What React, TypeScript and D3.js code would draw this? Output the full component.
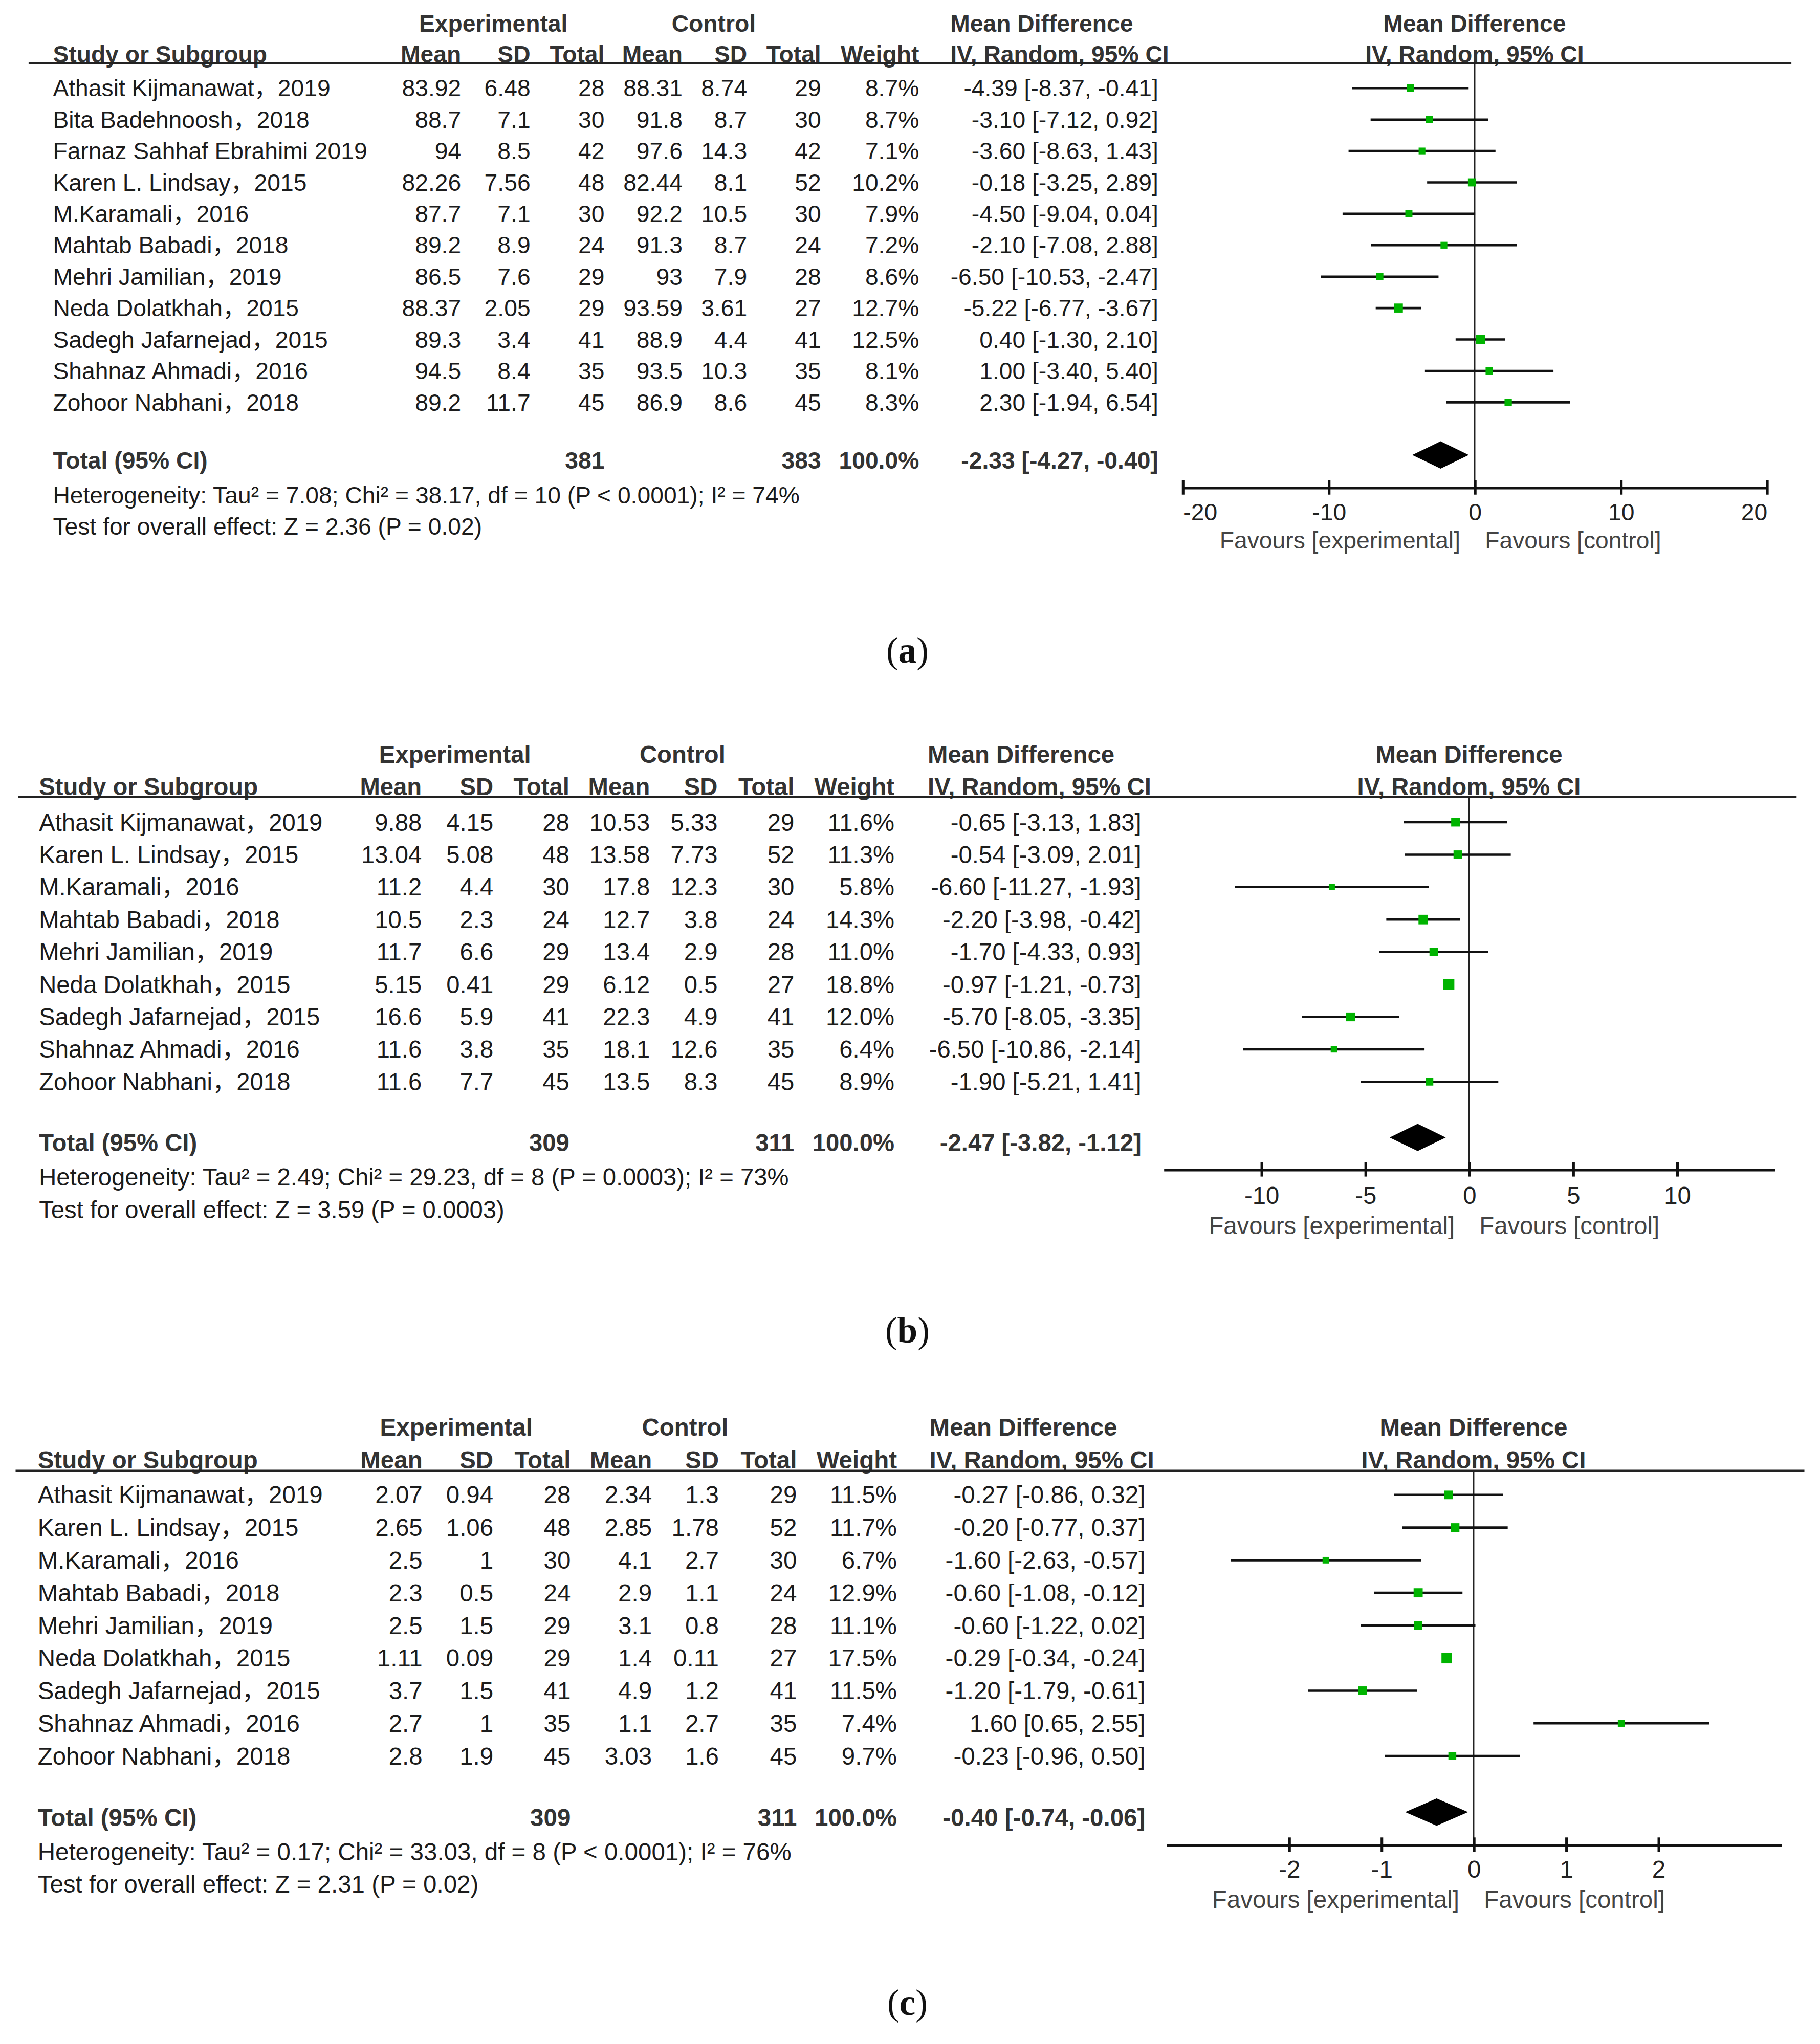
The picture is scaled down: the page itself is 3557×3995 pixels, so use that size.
import React, { useEffect, useRef } from 'react';
import * as d3 from 'd3';

const W = 3557, H = 3995;
const S = W / 1400;
const VH = H / S;
const FONT = '"Liberation Sans", Arial, "Noto Sans CJK SC", sans-serif';

// ---- panel (a) ----
const studiesA = [
  'Athasit Kijmanawat，2019', 'Bita Badehnoosh，2018', 'Farnaz Sahhaf Ebrahimi 2019',
  'Karen L. Lindsay，2015', 'M.Karamali，2016', 'Mahtab Babadi，2018', 'Mehri Jamilian，2019',
  'Neda Dolatkhah，2015', 'Sadegh Jafarnejad，2015', 'Shahnaz Ahmadi，2016', 'Zohoor Nabhani，2018',
];
const expA = [[83.92, 6.48, 28], [88.7, 7.1, 30], [94, 8.5, 42], [82.26, 7.56, 48], [87.7, 7.1, 30],
  [89.2, 8.9, 24], [86.5, 7.6, 29], [88.37, 2.05, 29], [89.3, 3.4, 41], [94.5, 8.4, 35], [89.2, 11.7, 45]];
const ctlA = [[88.31, 8.74, 29], [91.8, 8.7, 30], [97.6, 14.3, 42], [82.44, 8.1, 52], [92.2, 10.5, 30],
  [91.3, 8.7, 24], [93, 7.9, 28], [93.59, 3.61, 27], [88.9, 4.4, 41], [93.5, 10.3, 35], [86.9, 8.6, 45]];
const weightA = [8.7, 8.7, 7.1, 10.2, 7.9, 7.2, 8.6, 12.7, 12.5, 8.1, 8.3];
const mdA = [[-4.39, -8.37, -0.41], [-3.10, -7.12, 0.92], [-3.60, -8.63, 1.43], [-0.18, -3.25, 2.89],
  [-4.50, -9.04, 0.04], [-2.10, -7.08, 2.88], [-6.50, -10.53, -2.47], [-5.22, -6.77, -3.67],
  [0.40, -1.30, 2.10], [1.00, -3.40, 5.40], [2.30, -1.94, 6.54]];
const totalA = [381, 383];
const pooledA = [-2.33, -4.27, -0.40];
const statsA = [
  'Heterogeneity: Tau² = 7.08; Chi² = 38.17, df = 10 (P < 0.0001); I² = 74%',
  'Test for overall effect: Z = 2.36 (P = 0.02)',
];
const ticksA = [-20, -10, 0, 10, 20];

// ---- panel (b) ----
const studiesBC = [
  'Athasit Kijmanawat，2019', 'Karen L. Lindsay，2015', 'M.Karamali，2016', 'Mahtab Babadi，2018',
  'Mehri Jamilian，2019', 'Neda Dolatkhah，2015', 'Sadegh Jafarnejad，2015', 'Shahnaz Ahmadi，2016',
  'Zohoor Nabhani，2018',
];
const expB = [[9.88, 4.15, 28], [13.04, 5.08, 48], [11.2, 4.4, 30], [10.5, 2.3, 24], [11.7, 6.6, 29],
  [5.15, 0.41, 29], [16.6, 5.9, 41], [11.6, 3.8, 35], [11.6, 7.7, 45]];
const ctlB = [[10.53, 5.33, 29], [13.58, 7.73, 52], [17.8, 12.3, 30], [12.7, 3.8, 24], [13.4, 2.9, 28],
  [6.12, 0.5, 27], [22.3, 4.9, 41], [18.1, 12.6, 35], [13.5, 8.3, 45]];
const weightB = [11.6, 11.3, 5.8, 14.3, 11.0, 18.8, 12.0, 6.4, 8.9];
const mdB = [[-0.65, -3.13, 1.83], [-0.54, -3.09, 2.01], [-6.60, -11.27, -1.93], [-2.20, -3.98, -0.42],
  [-1.70, -4.33, 0.93], [-0.97, -1.21, -0.73], [-5.70, -8.05, -3.35], [-6.50, -10.86, -2.14],
  [-1.90, -5.21, 1.41]];
const totalB = [309, 311];
const pooledB = [-2.47, -3.82, -1.12];
const statsB = [
  'Heterogeneity: Tau² = 2.49; Chi² = 29.23, df = 8 (P = 0.0003); I² = 73%',
  'Test for overall effect: Z = 3.59 (P = 0.0003)',
];
const ticksB = [-10, -5, 0, 5, 10];

// ---- panel (c) ----
const expC = [[2.07, 0.94, 28], [2.65, 1.06, 48], [2.5, 1, 30], [2.3, 0.5, 24], [2.5, 1.5, 29],
  [1.11, 0.09, 29], [3.7, 1.5, 41], [2.7, 1, 35], [2.8, 1.9, 45]];
const ctlC = [[2.34, 1.3, 29], [2.85, 1.78, 52], [4.1, 2.7, 30], [2.9, 1.1, 24], [3.1, 0.8, 28],
  [1.4, 0.11, 27], [4.9, 1.2, 41], [1.1, 2.7, 35], [3.03, 1.6, 45]];
const weightC = [11.5, 11.7, 6.7, 12.9, 11.1, 17.5, 11.5, 7.4, 9.7];
const mdC = [[-0.27, -0.86, 0.32], [-0.20, -0.77, 0.37], [-1.60, -2.63, -0.57], [-0.60, -1.08, -0.12],
  [-0.60, -1.22, 0.02], [-0.29, -0.34, -0.24], [-1.20, -1.79, -0.61], [1.60, 0.65, 2.55],
  [-0.23, -0.96, 0.50]];
const totalC = [309, 311];
const pooledC = [-0.40, -0.74, -0.06];
const statsC = [
  'Heterogeneity: Tau² = 0.17; Chi² = 33.03, df = 8 (P < 0.0001); I² = 76%',
  'Test for overall effect: Z = 2.31 (P = 0.02)',
];
const ticksC = [-2, -1, 0, 1, 2];

const colHeads = ['Mean', 'SD', 'Total', 'Mean', 'SD', 'Total', 'Weight'];

const layoutA = {
  fs: 18.2,
  hdr1: 18, hdr2: 41.8, line: 48.6, lineX: [22, 1378],
  row0: 67.8, step: 24.17, totalY: 354, hetY: 381, testY: 405,
  axisY: 375, tickY: 394, favY: 415.5, labelY: 500,
  studyX: 40.7, cols: [354.7, 408, 465, 525, 574.7, 631.6, 707], expC: 379.5, ctlC: 549,
  ciR: 891, mdX: 731, xDomain: [-20, 20], xRange: [909.6, 1359],
};
const layoutB = {
  fs: 18.6,
  hdr1: 580.5, hdr2: 605, line: 613, lineX: [14, 1382],
  row0: 632.5, step: 24.96, totalY: 879, hetY: 905.5, testY: 930.5,
  axisY: 899.6, tickY: 919.5, favY: 943, labelY: 1023,
  studyX: 30, cols: [324.4, 379.5, 438, 500, 552, 611, 688], expC: 350, ctlC: 525,
  ciR: 878, mdX: 713.6, xDomain: [-14.7, 14.7], xRange: [895, 1365],
};
const layoutC = {
  fs: 18.7,
  hdr1: 1098, hdr2: 1123, line: 1131.6, lineX: [12, 1388],
  row0: 1150, step: 25.1, totalY: 1398, hetY: 1424.5, testY: 1449.5,
  axisY: 1419, tickY: 1438, favY: 1461, labelY: 1540,
  studyX: 29, cols: [325, 379.5, 439, 501.5, 553, 613, 690], expC: 351, ctlC: 527,
  ciR: 881, mdX: 715, xDomain: [-3.33, 3.33], xRange: [897, 1370],
};

const fmt2 = (v: number) => v.toFixed(2);
const ciText = (r: number[]) => `${fmt2(r[0])} [${fmt2(r[1])}, ${fmt2(r[2])}]`;

function Panel(p: any) {
  const { studies, exp, ctl, weight, md, total, pooled, stats, ticks, label, L } = p;
  const axisRef = useRef<SVGGElement>(null);
  const x = d3.scaleLinear().domain(L.xDomain).range(L.xRange);
  const y = d3.scaleLinear().domain([0, studies.length - 1])
    .range([L.row0, L.row0 + L.step * (studies.length - 1)]);
  const box = d3.scaleSqrt().domain([0, 100]).range([0, 19.5]);
  const zx = x(0);

  useEffect(() => {
    const g = d3.select(axisRef.current);
    g.selectAll('*').remove();
    g.call(d3.axisBottom(x).tickValues(ticks).tickSizeOuter(0).tickSizeInner(5)
      .tickFormat((d: any) => String(d)) as any);
    g.attr('font-family', FONT).attr('font-size', L.fs);
    g.select('.domain').attr('stroke', '#111').attr('stroke-width', 2);
    g.selectAll('.tick line').attr('y1', -5.5).attr('y2', 5.5).attr('stroke', '#111').attr('stroke-width', 2);
    g.selectAll('.tick text')
      .attr('y', L.tickY - L.axisY).attr('dy', '0.35em').attr('fill', '#222')
      .attr('text-anchor', (d: any) => (d === L.xDomain[0] ? 'start' : d === L.xDomain[1] ? 'end' : 'middle'));
  }, []);

  const hd = { fontWeight: 'bold', fill: '#333' } as any;
  const tx = { fill: '#1c1c1c' } as any;

  return (
    <g fontFamily={FONT} fontSize={L.fs}>
      {/* headers */}
      <text x={L.expC} y={L.hdr1} dy="0.35em" textAnchor="middle" {...hd}>Experimental</text>
      <text x={L.ctlC} y={L.hdr1} dy="0.35em" textAnchor="middle" {...hd}>Control</text>
      <text x={L.mdX} y={L.hdr1} dy="0.35em" {...hd}>Mean Difference</text>
      <text x={zx} y={L.hdr1} dy="0.35em" textAnchor="middle" {...hd}>Mean Difference</text>
      <text x={L.studyX} y={L.hdr2} dy="0.35em" {...hd}>Study or Subgroup</text>
      {colHeads.map((h, i) => (
        <text key={i} x={L.cols[i]} y={L.hdr2} dy="0.35em" textAnchor="end" {...hd}>{h}</text>
      ))}
      <text x={L.mdX} y={L.hdr2} dy="0.35em" {...hd}>IV, Random, 95% CI</text>
      <text x={zx} y={L.hdr2} dy="0.35em" textAnchor="middle" {...hd}>IV, Random, 95% CI</text>
      <line x1={L.lineX[0]} x2={L.lineX[1]} y1={L.line} y2={L.line} stroke="#222" strokeWidth={2} />

      {/* zero line */}
      <line x1={zx} x2={zx} y1={L.line} y2={L.axisY} stroke="#222" strokeWidth={1.2} />

      {/* study rows */}
      {studies.map((s: string, i: number) => {
        const vals = [...exp[i], ...ctl[i]].map((v: number) => String(v));
        vals.push(weight[i].toFixed(1) + '%');
        const cy = y(i);
        const b = box(weight[i]);
        return (
          <g key={s}>
            <text x={L.studyX} y={cy} dy="0.35em" {...tx}>{s}</text>
            {vals.map((v: string, j: number) => (
              <text key={j} x={L.cols[j]} y={cy} dy="0.35em" textAnchor="end" {...tx}>{v}</text>
            ))}
            <text x={L.ciR} y={cy} dy="0.35em" textAnchor="end" {...tx}>{ciText(md[i])}</text>
            <line x1={x(md[i][1])} x2={x(md[i][2])} y1={cy} y2={cy} stroke="#111" strokeWidth={1.8} />
            <rect x={x(md[i][0]) - b / 2} y={cy - b / 2} width={b} height={b} fill="#00b400" />
          </g>
        );
      })}

      {/* total row */}
      <text x={L.studyX} y={L.totalY} dy="0.35em" {...hd}>Total (95% CI)</text>
      <text x={L.cols[2]} y={L.totalY} dy="0.35em" textAnchor="end" {...hd}>{total[0]}</text>
      <text x={L.cols[5]} y={L.totalY} dy="0.35em" textAnchor="end" {...hd}>{total[1]}</text>
      <text x={L.cols[6]} y={L.totalY} dy="0.35em" textAnchor="end" {...hd}>100.0%</text>
      <text x={L.ciR} y={L.totalY} dy="0.35em" textAnchor="end" {...hd}>{ciText(pooled)}</text>
      <path
        d={`M${x(pooled[1])},${L.totalY - 4} L${x(pooled[0])},${L.totalY - 14.5} L${x(pooled[2])},${L.totalY - 4} L${x(pooled[0])},${L.totalY + 6.5} Z`}
        fill="#000"
      />
      <text x={L.studyX} y={L.hetY} dy="0.35em" {...tx}>{stats[0]}</text>
      <text x={L.studyX} y={L.testY} dy="0.35em" {...tx}>{stats[1]}</text>

      {/* axis */}
      <g ref={axisRef} transform={`translate(0,${L.axisY})`} />
      <text x={zx - 11} y={L.favY} dy="0.35em" textAnchor="end" fill="#444">Favours [experimental]</text>
      <text x={zx + 8} y={L.favY} dy="0.35em" fill="#444">Favours [control]</text>

      {/* panel label */}
      <text x={698} y={L.labelY} dy="0.35em" textAnchor="middle" fontFamily='"Liberation Serif", serif' fontSize={28} fill="#111">
        (<tspan fontWeight="bold">{label}</tspan>)
      </text>
    </g>
  );
}

export default function App() {
  return (
    <svg width={W} height={H} viewBox={`0 0 1400 ${VH}`}
      style={{ position: 'absolute', left: 0, top: 0, display: 'block', background: '#fff' }}>
      <rect width={1400} height={VH} fill="#fff" />
      <Panel studies={studiesA} exp={expA} ctl={ctlA} weight={weightA} md={mdA} total={totalA}
        pooled={pooledA} stats={statsA} ticks={ticksA} label="a" L={layoutA} />
      <Panel studies={studiesBC} exp={expB} ctl={ctlB} weight={weightB} md={mdB} total={totalB}
        pooled={pooledB} stats={statsB} ticks={ticksB} label="b" L={layoutB} />
      <Panel studies={studiesBC} exp={expC} ctl={ctlC} weight={weightC} md={mdC} total={totalC}
        pooled={pooledC} stats={statsC} ticks={ticksC} label="c" L={layoutC} />
    </svg>
  );
}
